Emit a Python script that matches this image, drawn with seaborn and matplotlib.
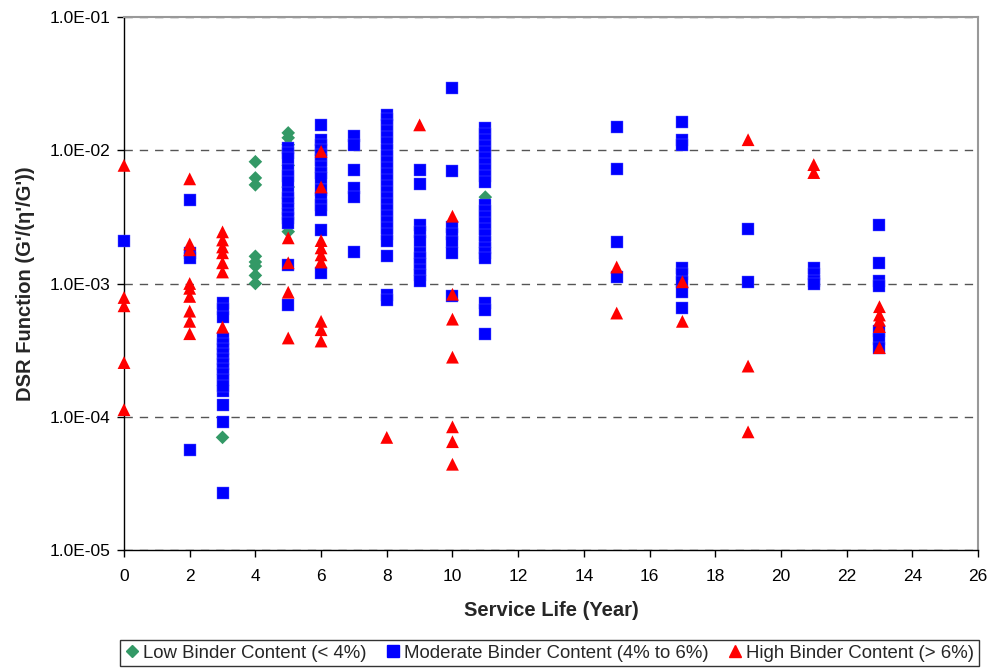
import matplotlib
matplotlib.use("Agg")
import matplotlib.pyplot as plt
from matplotlib.lines import Line2D
from matplotlib.ticker import FixedLocator, FuncFormatter
import numpy as np
import pandas as pd
import seaborn as sns

# Low binder content (< 4%)
low_years = [3, 4, 4, 4, 4, 4, 4, 4, 4, 5, 5, 5, 5, 5, 5, 11]
low_values = [7.0e-5, 8.2e-3, 6.2e-3, 5.5e-3, 1.6e-3, 1.45e-3, 1.35e-3, 1.15e-3, 1.0e-3,
              1.35e-2, 1.24e-2, 1.1e-2, 7.7e-3, 5.3e-3, 2.45e-3, 4.45e-3]

# Moderate binder content (4% to 6%)
mod_years = ([0] + [2] * 4 + [3] * 17 + [5] * 15 + [6] * 15 + [7] * 6 + [8] * 25 +
             [9] * 11 + [10] * 7 + [11] * 23 + [15] * 4 + [17] * 8 + [19] * 2 +
             [21] * 4 + [23] * 7)
mod_values = [
    2.1e-3,
    4.2e-3, 1.7e-3, 1.56e-3, 5.65e-5,
    7.2e-4, 6.4e-4, 5.65e-4, 3.8e-4, 3.5e-4, 3.2e-4, 2.95e-4, 2.7e-4, 2.5e-4,
    2.3e-4, 2.1e-4, 1.9e-4, 1.55e-4, 1.23e-4, 9.2e-5, 2.7e-5, 1.7e-4,
    1.04e-2, 9.5e-3, 8.7e-3, 7.1e-3, 6.4e-3, 5.75e-3, 4.75e-3, 4.35e-3, 4.0e-3,
    3.65e-3, 3.35e-3, 3.1e-3, 2.85e-3, 1.38e-3, 6.95e-4,
    1.55e-2, 1.19e-2, 1.09e-2, 1.0e-2, 9.2e-3, 8.4e-3, 7.45e-3, 6.7e-3, 6.2e-3,
    5.0e-3, 4.4e-3, 3.9e-3, 3.55e-3, 2.5e-3, 1.2e-3,
    1.28e-2, 1.1e-2, 7.1e-3, 5.2e-3, 4.45e-3, 1.72e-3,
    1.85e-2, 1.72e-2, 1.55e-2, 1.39e-2, 1.26e-2, 1.13e-2, 1.0e-2, 9.0e-3, 8.1e-3,
    7.3e-3, 6.6e-3, 5.95e-3, 5.35e-3, 4.85e-3, 4.35e-3, 3.95e-3, 3.55e-3, 3.2e-3,
    2.9e-3, 2.6e-3, 2.35e-3, 2.1e-3, 1.6e-3, 8.2e-4, 7.5e-4,
    7.1e-3, 5.55e-3, 2.75e-3, 2.45e-3, 2.1e-3, 1.7e-3, 1.55e-3, 1.4e-3, 1.27e-3,
    1.15e-3, 1.05e-3,
    2.95e-2, 7.0e-3, 2.65e-3, 2.35e-3, 2.05e-3, 1.7e-3, 8.0e-4,
    1.47e-2, 1.32e-2, 1.19e-2, 1.08e-2, 9.7e-3, 8.7e-3, 7.85e-3, 7.1e-3, 6.4e-3,
    5.75e-3, 3.85e-3, 3.5e-3, 3.15e-3, 2.85e-3, 2.55e-3, 2.3e-3, 2.05e-3, 1.85e-3,
    1.7e-3, 1.56e-3, 7.2e-4, 6.3e-4, 4.15e-4,
    1.5e-2, 7.2e-3, 2.05e-3, 1.12e-3,
    1.63e-2, 1.19e-2, 1.1e-2, 1.3e-3, 1.17e-3, 1.02e-3, 8.6e-4, 6.6e-4,
    2.57e-3, 1.03e-3,
    1.3e-3, 1.17e-3, 1.05e-3, 1.0e-3,
    2.75e-3, 1.43e-3, 1.05e-3, 9.5e-4, 4.4e-4, 3.8e-4, 3.3e-4,
]

# High binder content (> 6%)
high_years = ([0] * 5 + [2] * 9 + [3] * 7 + [5] * 4 + [6] * 9 + [8] + [9] +
              [10] * 7 + [15] * 2 + [17] * 2 + [19] * 3 + [21] * 2 + [23] * 5)
high_values = [
    7.7e-3, 7.85e-4, 6.8e-4, 2.55e-4, 1.13e-4,
    6.1e-3, 1.98e-3, 1.79e-3, 1.0e-3, 9.2e-4, 8.0e-4, 6.2e-4, 5.2e-4, 4.2e-4,
    2.44e-3, 2.12e-3, 1.88e-3, 1.7e-3, 1.43e-3, 1.22e-3, 4.7e-4,
    2.2e-3, 1.43e-3, 8.6e-4, 3.9e-4,
    9.8e-3, 5.3e-3, 2.1e-3, 1.85e-3, 1.64e-3, 1.45e-3, 5.2e-4, 4.5e-4, 3.7e-4,
    7.0e-5,
    1.55e-2,
    3.2e-3, 8.3e-4, 5.4e-4, 2.8e-4, 8.4e-5, 6.5e-5, 4.4e-5,
    1.33e-3, 6.0e-4,
    1.03e-3, 5.2e-4,
    1.2e-2, 2.4e-4, 7.7e-5,
    7.8e-3, 6.8e-3,
    6.7e-4, 5.8e-4, 5.3e-4, 4.75e-4, 3.3e-4,
]

labels = ["Low Binder Content (< 4%)",
          "Moderate Binder Content (4% to 6%)",
          "High Binder Content (> 6%)"]
colors = ["#339966", "#0000FF", "#FF0000"]
markers = ["D", "s", "^"]
sizes = [48, 80, 85]
edges = ["none", "#5c5cff", "none"]
edge_widths = [0, 0.3, 0]

groups = [
    pd.DataFrame({"year": low_years, "dsr": low_values}),
    pd.DataFrame({"year": mod_years, "dsr": mod_values}),
    pd.DataFrame({"year": high_years, "dsr": high_values}),
]

sns.set_theme(style="white")
plt.rcParams["font.family"] = ["Liberation Sans", "DejaVu Sans"]

fig = plt.figure(figsize=(9.92, 6.68), dpi=100)
ax = fig.add_axes([124 / 992, 1 - 550 / 668, (978 - 124) / 992, (550 - 17) / 668])

for df, c, m, s, ec, lw in zip(groups, colors, markers, sizes, edges, edge_widths):
    sns.scatterplot(data=df, x="year", y="dsr", ax=ax, color=c, marker=m, s=s,
                    edgecolor=ec, linewidth=lw, legend=False, zorder=3,
                    clip_on=False)

ax.set_yscale("log")
ax.set_ylim(1e-5, 1e-1)
ax.set_xlim(0, 26)

ax.xaxis.set_major_locator(FixedLocator(np.arange(0, 27, 2)))
ax.yaxis.set_major_locator(FixedLocator([1e-5, 1e-4, 1e-3, 1e-2, 1e-1]))
ax.yaxis.set_minor_locator(FixedLocator([]))
ax.yaxis.set_major_formatter(FuncFormatter(lambda v, p: f"{v:.1E}"))

ax.grid(axis="y", which="major", linestyle=(0, (6, 5)), color="#555555", linewidth=1.0)
ax.grid(axis="x", visible=False)
ax.set_axisbelow(True)

for side in ["left", "bottom"]:
    ax.spines[side].set_color("black")
    ax.spines[side].set_linewidth(1.0)
for side in ["top", "right"]:
    ax.spines[side].set_color("#999999")
    ax.spines[side].set_linewidth(1.5)

ax.tick_params(axis="both", which="major", direction="out", length=5, width=1,
               color="black", labelsize=12.5, labelcolor="black", bottom=True, left=True)
ax.tick_params(axis="y", pad=5)
ax.tick_params(axis="x", pad=9)

ax.set_xlabel("Service Life (Year)", fontsize=14.5, fontweight="bold", labelpad=12)
ax.set_ylabel("DSR Function (G'/(\u03b7'/G'))", fontsize=14.5, fontweight="bold", labelpad=10)

handles = [Line2D([], [], linestyle="none", marker=m, color=c, markersize=ms)
           for m, c, ms in zip(markers, colors, [6, 9, 9])]
leg = fig.legend(handles, labels, ncol=3, loc="upper left",
                 bbox_to_anchor=(120 / 992, 1 - 640 / 668, (979 - 120) / 992, 0.0),
                 mode="expand", frameon=True, fancybox=False, fontsize=13.4,
                 handlelength=0.8, handletextpad=0.2, borderpad=0.25,
                 columnspacing=0.8, borderaxespad=0)
leg.get_frame().set_edgecolor("black")
leg.get_frame().set_linewidth(1.0)

fig.savefig("out.png", dpi=100, facecolor="white")
